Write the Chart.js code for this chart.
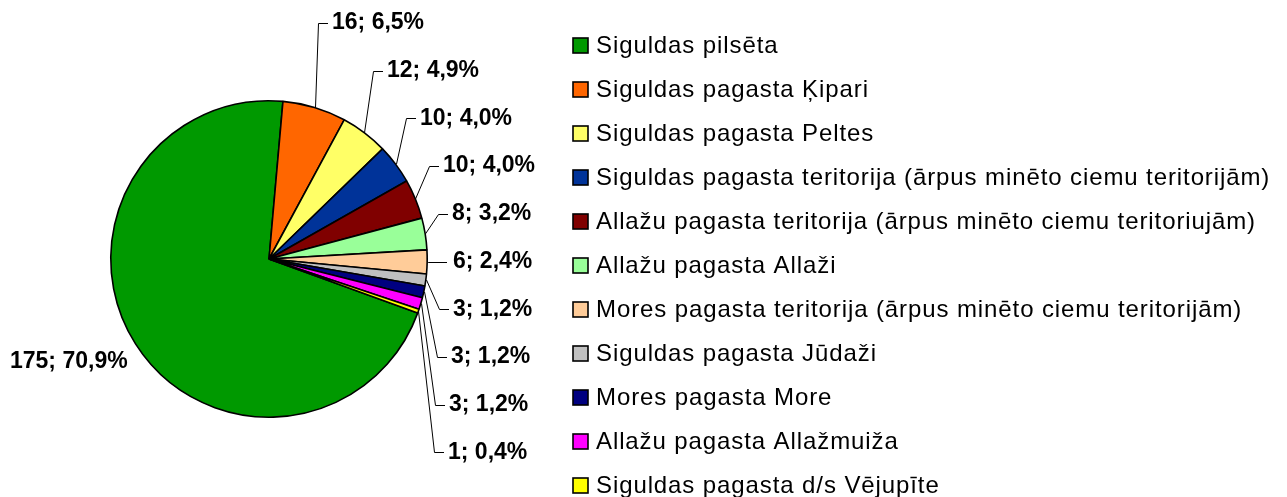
<!DOCTYPE html>
<html>
<head>
<meta charset="utf-8">
<script src="https://cdn.jsdelivr.net/npm/chart.js@4"></script>
<style>
  html, body { margin: 0; padding: 0; background: #fff; }
  #wrap { width: 1287px; height: 497px; }
</style>
</head>
<body>
<div id="wrap"><canvas id="grafiks" width="1287" height="497"></canvas></div>
<script>
// dati
const kategorijas = [
  'Siguldas pilsēta',
  'Siguldas pagasta Ķipari',
  'Siguldas pagasta Peltes',
  'Siguldas pagasta teritorija (ārpus minēto ciemu teritorijām)',
  'Allažu pagasta teritorija (ārpus minēto ciemu teritoriujām)',
  'Allažu pagasta Allaži',
  'Mores pagasta teritorija (ārpus minēto ciemu teritorijām)',
  'Siguldas pagasta Jūdaži',
  'Mores pagasta More',
  'Allažu pagasta Allažmuiža',
  'Siguldas pagasta d/s Vējupīte'
];
const skaits = [175, 16, 12, 10, 10, 8, 6, 3, 3, 3, 1];
const procenti = ['70,9%', '6,5%', '4,9%', '4,0%', '4,0%', '3,2%', '2,4%', '1,2%', '1,2%', '1,2%', '0,4%'];
const krasas = ['#009900', '#FF6600', '#FFFF66', '#003399', '#800000', '#99FF99',
                '#FFCC99', '#C0C0C0', '#000080', '#FF00FF', '#FFFF00'];

// etiķešu izkārtojums (teksta kreisā mala), labajā pusē kaudzē
const etiketesX = [10, 332, 387, 420, 443, 452, 453, 453, 451, 449, 448];
const etiketesY0 = 23, etiketesSolis = 47.7;

const etiketes = {
  id: 'etiketes',
  afterDatasetsDraw(chart) {
    const ctx = chart.ctx;
    const meta = chart.getDatasetMeta(0);
    ctx.save();
    ctx.font = 'bold 23px "Liberation Sans", Arial, sans-serif';
    ctx.textBaseline = 'middle';
    ctx.fillStyle = '#000';
    ctx.strokeStyle = '#000';
    ctx.lineWidth = 1;
    meta.data.forEach((arc, i) => {
      const p = arc.getProps(['x', 'y', 'startAngle', 'endAngle', 'outerRadius'], true);
      const mid = (p.startAngle + p.endAngle) / 2;
      const ax = p.x + Math.cos(mid) * p.outerRadius;
      const ay = p.y + Math.sin(mid) * p.outerRadius;
      const teksts = skaits[i] + '; ' + procenti[i];
      const tx = etiketesX[i];
      ctx.textAlign = 'left';
      if (i === 0) {
        ctx.fillText(teksts, tx, 362);
        return;
      }
      const ty = etiketesY0 + (i - 1) * etiketesSolis;
      const ly = Math.round(ty) + 0.5;
      ctx.beginPath();
      if (Math.abs(ay - ty) < 4) {
        // gandrīz horizontāla līnija
        ctx.moveTo(ax + 1, ly);
        ctx.lineTo(tx - 6, ly);
      } else {
        const ex = tx - 14;
        ctx.moveTo(Math.round(ax) + 0.5, ay);
        ctx.lineTo(ex + 0.5, ly);
        ctx.lineTo(tx - 4, ly);
      }
      ctx.stroke();
      ctx.fillText(teksts, tx, ty);
    });
    ctx.restore();
  }
};

const legenda = {
  id: 'legenda',
  afterDraw(chart) {
    const ctx = chart.ctx;
    ctx.save();
    ctx.font = '24px "Liberation Sans", Arial, sans-serif';
    ctx.letterSpacing = '0.9px';
    ctx.textBaseline = 'middle';
    ctx.textAlign = 'left';
    kategorijas.forEach((nos, i) => {
      const y = 45 + i * 44;
      ctx.fillStyle = krasas[i];
      ctx.fillRect(573, y - 7, 15, 15);
      ctx.strokeStyle = '#000';
      ctx.lineWidth = 1.6;
      ctx.strokeRect(573, y - 7, 15, 15);
      ctx.fillStyle = '#000';
      ctx.fillText(nos, 596, y + 1);
    });
    ctx.restore();
  }
};

new Chart(document.getElementById('grafiks'), {
  type: 'pie',
  data: {
    labels: kategorijas,
    datasets: [{
      data: skaits,
      backgroundColor: krasas,
      borderColor: '#000',
      borderWidth: 1.6
    }]
  },
  options: {
    responsive: false,
    animation: false,
    rotation: 110,
    layout: { padding: { left: 110, top: 100, right: 859, bottom: 79 } },
    plugins: {
      legend: { display: false },
      tooltip: { enabled: false }
    }
  },
  plugins: [etiketes, legenda]
});
</script>
</body>
</html>
